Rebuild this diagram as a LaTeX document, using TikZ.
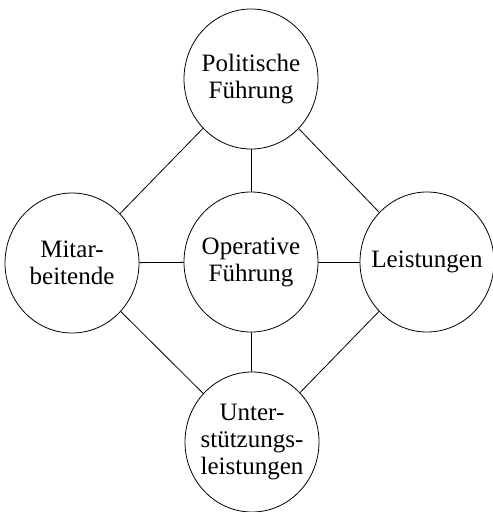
\documentclass[tikz,border=0pt]{standalone}
\usepackage{fontspec}
\setmainfont{Liberation Serif}
\usetikzlibrary{shapes.geometric}
\begin{document}
\begin{tikzpicture}[x=1pt,y=-1pt,
  area/.style={ellipse, draw, line width=0.8pt, minimum width=134pt, minimum height=140pt, inner sep=0pt},
  lab/.style={align=center, inner sep=0pt, font=\fontsize{25}{27}\selectfont},
  link/.style={line width=0.8pt}]
\useasboundingbox (0,0) rectangle (493,512);
% the five areas
\node[area, label={[lab]center:Politische\\Führung}] (pol) at (251,79) {};
\node[area, label={[lab]center:Operative\\Führung}] (op) at (251,262) {};
\node[area, label={[lab]center:Mitar-\\beitende}] (mit) at (72,263) {};
\node[area, label={[lab]center:Leistungen}] (lei) at (427,262) {};
\node[area, label={[lab]center:Unter-\\stützungs-\\leistungen}] (unt) at (252,442) {};
% connections
\draw[link] (pol) -- (op);
\draw[link] (pol) -- (mit);
\draw[link] (pol) -- (lei);
\draw[link] (op) -- (mit);
\draw[link] (op) -- (lei);
\draw[link] (op) -- (unt);
\draw[link] (mit) -- (unt);
\draw[link] (lei) -- (unt);
\end{tikzpicture}
\end{document}
